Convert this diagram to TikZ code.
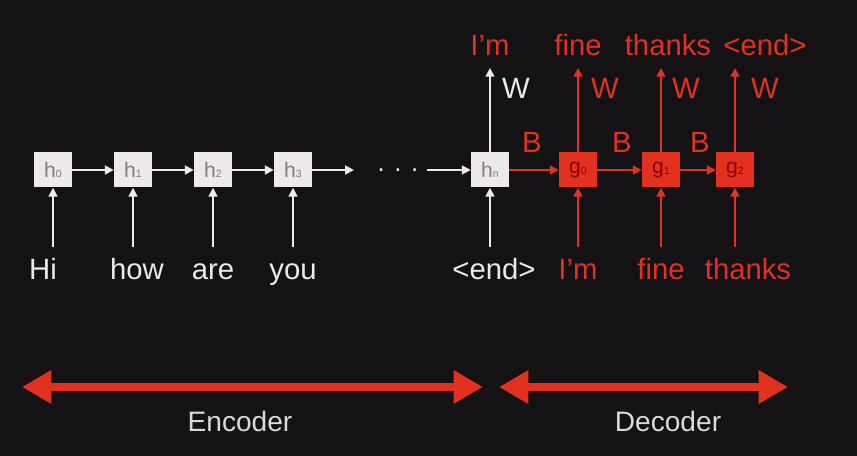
\documentclass[tikz,border=0pt]{standalone}
\usepackage{fontspec}
\setmainfont{Liberation Sans}
\usetikzlibrary{arrows.meta}
\definecolor{bg}{HTML}{141214}
\definecolor{dred}{HTML}{E2311E}
\definecolor{fg}{HTML}{ECE8EC}
\newcommand{\idx}[1]{\raisebox{-0.5pt}{\fontsize{9}{9}\selectfont #1}}
\begin{document}
\begin{tikzpicture}[x=0.03cm,y=-0.03cm,
    cell/.style={minimum width=1.14cm,minimum height=1.05cm,inner sep=0pt,
      font=\fontsize{18}{18}\selectfont},
    hcell/.style={cell,fill=fg,text=gray},
    gcell/.style={cell,fill=dred,text=red!55!black},
    word/.style={anchor=base,inner xsep=0pt,inner ysep=10pt,text height=18pt,
      text depth=5pt,font=\fontsize{25}{30}\selectfont},
    outw/.style={word,text depth=0pt},
    lnk/.style={line width=1.6pt,-{Triangle[length=7.5pt,width=7.5pt]}},
    span/.style={line width=7pt,dred,
      {Triangle[length=25pt,width=27pt]}-{Triangle[length=25pt,width=27pt]}}]
  \fill[bg] (0,0) rectangle (857,456);

  % encoder cells
  \node[hcell] (h0) at (53,170) {h\idx{0}};
  \node[hcell] (h1) at (133,170) {h\idx{1}};
  \node[hcell] (h2) at (213,170) {h\idx{2}};
  \node[hcell] (h3) at (293,170) {h\idx{3}};
  \node[hcell] (hn) at (490,170) {h\idx{n}};
  \node[text=fg,font=\fontsize{22}{26}\selectfont] (dots) at (398,170) {. . .};
  \coordinate (c3) at (354,170);
  \coordinate (cn) at (427,170);

  % decoder cells
  \node[gcell] (g0) at (578,170) {g\idx{0}};
  \node[gcell] (g1) at (661,170) {g\idx{1}};
  \node[gcell] (g2) at (735,170) {g\idx{2}};

  % inputs
  \node[word,text=fg] (w0) at (43,280) {Hi};
  \node[word,text=fg] (w1) at (137,280) {how};
  \node[word,text=fg] (w2) at (213,280) {are};
  \node[word,text=fg] (w3) at (293,280) {you};
  \node[word,text=fg] (wn) at (494,280) {<end>};
  \node[word,text=dred] (v0) at (578,280) {I’m};
  \node[word,text=dred] (v1) at (661,280) {fine};
  \node[word,text=dred] (v2) at (748,280) {thanks};

  % outputs
  \node[outw,text=dred] (o0) at (490,56) {I’m};
  \node[outw,text=dred] (o1) at (578,56) {fine};
  \node[outw,text=dred] (o2) at (668,56) {thanks};
  \node[outw,text=dred] (o3) at (765,56) {<end>};

  \foreach \c/\w in {h0/w0,h1/w1,h2/w2,h3/w3,hn/wn}
    \draw[lnk,fg] (\c |- \w.north) -- (\c.south);
  \foreach \c/\w in {g0/v0,g1/v1,g2/v2}
    \draw[lnk,dred] (\c |- \w.north) -- (\c.south);

  \draw[lnk,fg] (h0) -- (h1);
  \draw[lnk,fg] (h1) -- (h2);
  \draw[lnk,fg] (h2) -- (h3);
  \draw[lnk,fg] (h3) -- (c3);
  \draw[lnk,fg] (cn) -- (hn);
  \draw[lnk,dred] (hn) -- (g0);
  \draw[lnk,dred] (g0) -- (g1);
  \draw[lnk,dred] (g1) -- (g2);

  \draw[lnk,fg] (hn.north) -- (hn |- o0.south);
  \draw[lnk,dred] (g0.north) -- (g0 |- o1.south);
  \draw[lnk,dred] (g1.north) -- (g1 |- o2.south);
  \draw[lnk,dred] (g2.north) -- (g2 |- o3.south);

  % weights
  \node[word,text=fg] (wt0) at (516,99) {W};
  \node[word,text=dred] (wt1) at (605,99) {W};
  \node[word,text=dred] (wt2) at (686,99) {W};
  \node[word,text=dred] (wt3) at (765,99) {W};
  \node[word,text=dred] (b0) at (532,153) {B};
  \node[word,text=dred] (b1) at (622,153) {B};
  \node[word,text=dred] (b2) at (700,153) {B};

  % spans
  \coordinate (e0) at (22,387);
  \coordinate (e1) at (483,387);
  \coordinate (d0) at (499,387);
  \coordinate (d1) at (788,387);
  \draw[span] (e0) -- (e1);
  \draw[span] (d0) -- (d1);
  \node[anchor=base,text=fg!85!gray,font=\fontsize{24}{28}\selectfont] (enc) at (240,432) {Encoder};
  \node[anchor=base,text=fg!85!gray,font=\fontsize{24}{28}\selectfont] (dec) at (668,432) {Decoder};
\end{tikzpicture}
\end{document}
